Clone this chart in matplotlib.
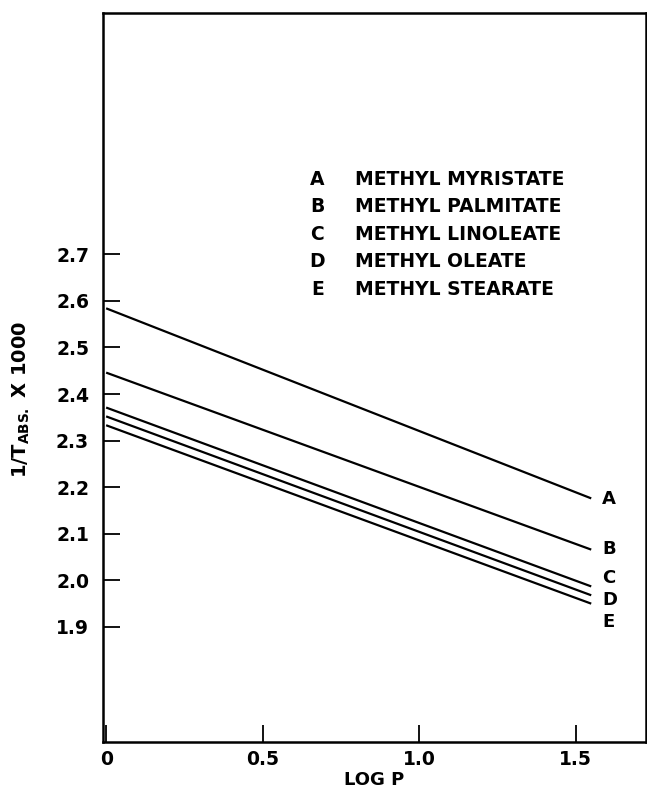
# vapor pressure plot of methyl esters: 1/T vs log P, straight lines
import numpy as np
import matplotlib.pyplot as plt

# line ends (log P = 0 and log P = 1.55)
log_p = [0.0, 1.55]
names = ['A', 'B', 'C', 'D', 'E']
esters = ['METHYL MYRISTATE', 'METHYL PALMITATE', 'METHYL LINOLEATE',
          'METHYL OLEATE', 'METHYL STEARATE']
inv_t_start = [2.584, 2.446, 2.371, 2.352, 2.333]
inv_t_end = [2.176, 2.066, 1.987, 1.968, 1.950]
# where the letter at the right end of each line sits
label_y = [2.175, 2.068, 2.006, 1.957, 1.910]

x_ticks = [0, 0.5, 1.0, 1.5]
x_tick_labels = ['0', '0.5', '1.0', '1.5']
y_ticks = [1.9, 2.0, 2.1, 2.2, 2.3, 2.4, 2.5, 2.6, 2.7]

plt.rcParams['font.family'] = ['DejaVu Sans']
plt.rcParams['font.weight'] = 'bold'

fig = plt.figure(figsize=(6.47, 7.93), dpi=100)
ax = fig.add_axes([103/647, 51/793, 543/647, 729/793])

for y0, y1 in zip(inv_t_start, inv_t_end):
    ax.plot(log_p, [y0, y1], color='black', lw=1.6, solid_capstyle='butt')

for n, y in zip(names, label_y):
    ax.text(1.585, y, n, fontsize=13, fontweight='bold', va='center', ha='left')

# legend drawn as plain text, like the original
for i, (n, e) in enumerate(zip(names, esters)):
    yy = 0.772 - i * 0.0377
    ax.text(0.395, yy, n, transform=ax.transAxes, fontsize=13.5,
            fontweight='bold', va='center', ha='center')
    ax.text(0.464, yy, e, transform=ax.transAxes, fontsize=13.5,
            fontweight='bold', va='center', ha='left')

ax.set_xlim(-0.01, 1.725)
ax.set_ylim(1.653, 3.218)
ax.set_xticks(x_ticks)
ax.set_xticklabels(x_tick_labels)
ax.set_yticks(y_ticks)
ax.set_yticklabels([f'{v:.1f}' for v in y_ticks])
ax.tick_params(direction='in', length=12, width=1.3, labelsize=13.5)
ax.tick_params(axis='x', pad=6)
ax.tick_params(axis='y', pad=10)
for lab in ax.get_xticklabels() + ax.get_yticklabels():
    lab.set_fontweight('bold')
for s in ax.spines.values():
    s.set_linewidth(1.8)

ax.set_xlabel('LOG P', fontsize=13, fontweight='bold', labelpad=1)
ax.set_ylabel(r'1/T$_{\mathbf{ABS.}}$ X 1000', fontsize=14, fontweight='bold')
ax.yaxis.set_label_coords(-0.13, 0.47)

fig.savefig('out.png', dpi=100)
